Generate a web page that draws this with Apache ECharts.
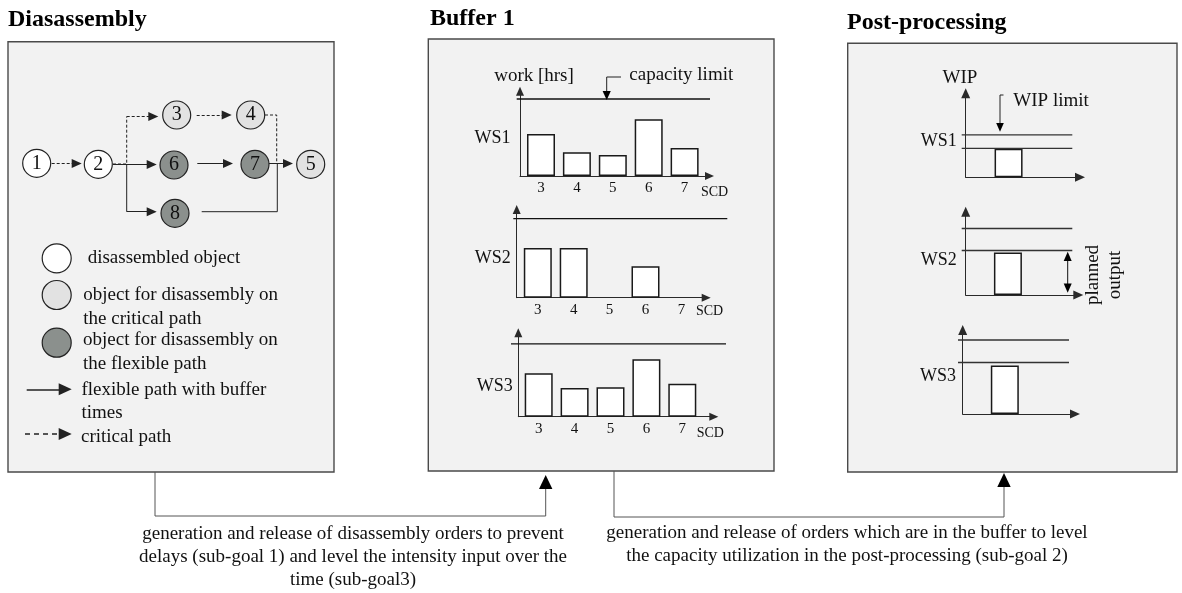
<!DOCTYPE html>
<html><head><meta charset="utf-8">
<script src="https://cdn.jsdelivr.net/npm/echarts@6/dist/echarts.min.js"></script>
<style>html,body{margin:0;padding:0;background:#fff}#c{width:1182px;height:593px}</style>
</head><body><div id="c"></div><script>
// ================= DATA =================
// Buffer 1: work [hrs] per scheduled completion day (SCD)
const scdDays = [3, 4, 5, 6, 7];
const scdTickLabels = ['3', '4', '5', '6', '7'];
const ws1Work = [6.0, 3.4, 3.0, 8.1, 4.0];
const ws2Work = [7.1, 7.1, null, 4.5, null];
const ws3Work = [6.2, 4.1, 4.2, 8.2, 4.7];
const capacityLimit = [11.0, 11.3, 10.4];
const workstations = ['WS1', 'WS2', 'WS3'];

// Post-processing: WIP per workstation
const postSlots = ['t1', 't2', 't3', 't4'];
const ws1Wip = [null, 5.7, null, null];
const ws2Wip = [null, 8.5, null, null];
const ws3Wip = [null, 9.7, null, null];
const wipLimit = [8.5, 13.3, 14.8];
const plannedOutput = [5.8, 8.9, 10.3];

// Disassembly network (diagram units inside the panel)
const nodeIds = ['1', '2', '3', '4', '5', '6', '7', '8'];
const nodeKinds = ['done', 'done', 'critical', 'critical', 'critical', 'flexible', 'flexible', 'flexible'];
const nodeX = [28.7, 90.3, 168.7, 242.7, 302.7, 166, 247, 167];
const nodeY = [121.3, 122.3, 73, 73, 122.3, 123, 122.3, 171.3];
const edgeKinds = ['critical', 'critical', 'flexible', 'flexible', 'critical', 'flexible', 'critical', 'flexible', 'flexible'];
const edgeArrow = [true, true, true, true, true, true, false, true, false];
const edgePaths = [
  [[43.7, 121.5], [73.7, 121.5]],
  [[105, 122], [118.7, 122], [118.7, 74.5], [150.3, 74.5]],
  [[105, 122.5], [148.7, 122.5]],
  [[118.7, 122.5], [118.7, 169.7], [148.7, 169.7]],
  [[188.7, 73], [223.7, 73]],
  [[189.3, 121.5], [225, 121.5]],
  [[257, 73], [268.7, 73], [268.7, 121.5]],
  [[261, 121.5], [285, 121.5]],
  [[193.7, 169.7], [269.3, 169.7], [269.3, 121.5]]
];
const legendKinds = ['done', 'critical', 'flexible'];
const legendNodeY = [216.3, 253, 300.7];
const legendArrowKinds = ['flexible', 'critical'];
const legendArrowPaths = [[[18.7, 347.3], [63.7, 347.3]], [[17, 392], [63.7, 392]]];

// ================= STYLE / LAYOUT =================
const FONT = "'Liberation Serif','Times New Roman',serif";
const kindColor = { done: '#ffffff', critical: '#e2e2e2', flexible: '#8b908d' };
const bufLayout = [
  { ax: 520, ay: 176, ytip: 86.7, xtip: 714, firstOff: 21, lineL: 516.7, lineR: 710 },
  { ax: 516.7, ay: 297.7, ytip: 205, xtip: 710.7, firstOff: 21.1, lineL: 513.3, lineR: 727.3 },
  { ax: 518.3, ay: 416.7, ytip: 328.3, xtip: 718.3, firstOff: 20.4, lineL: 511, lineR: 726 }
];
const postLayout = [
  { ax: 965.7, ay: 177.3, ytip: 88.3, xtip: 1085, lineL: 961.7, lineR: 1072.3 },
  { ax: 965.7, ay: 295, ytip: 206.7, xtip: 1083.3, lineL: 961.7, lineR: 1072.3 },
  { ax: 962.7, ay: 414, ytip: 325, xtip: 1080, lineL: 958, lineR: 1069 }
];
const BUF_PX_PER_DAY = 35.9, BUF_PX_PER_HR = 7, BUF_ARROW = 9;
const POST_PX_PER_WIP = 5, POST_ARROW = 10;

const grids = [], xAxes = [], yAxes = [], series = [];
function addGrid(g, x, y) {
  grids.push(Object.assign({ show: false, containLabel: false, outerBoundsMode: 'none' }, g));
  const i = grids.length - 1;
  xAxes.push(Object.assign({ gridIndex: i }, x));
  yAxes.push(Object.assign({ gridIndex: i }, y));
  return i;
}
function hidden(min, max, inverse) {
  return { type: 'value', show: false, min: min, max: max, inverse: !!inverse, splitLine: { show: false } };
}
function arrowLine(size) {
  return { show: true, onZero: false, symbol: ['none', 'triangle'], symbolSize: size, lineStyle: { color: '#2a2a2a', width: 1 } };
}
const barStyle = { color: '#ffffff', borderColor: '#1a1a1a', borderWidth: 1.5 };

// ---- Buffer 1 ----
const bufWork = [ws1Work, ws2Work, ws3Work];
bufLayout.forEach(function (L, i) {
  const top = L.ytip + BUF_ARROW / 2, left = L.ax;
  const width = L.xtip - BUF_ARROW / 2 - L.ax, height = L.ay - top;
  const xmin = scdDays[0] - L.firstOff / BUF_PX_PER_DAY;
  const ymax = height / BUF_PX_PER_HR;
  const gi = addGrid({ left: left, top: top, width: width, height: height },
    { type: 'value', min: xmin, max: xmin + width / BUF_PX_PER_DAY,
      axisLine: arrowLine([8, BUF_ARROW]), axisTick: { show: false }, splitLine: { show: false },
      axisLabel: { show: true, customValues: scdDays, margin: 5, fontSize: 15, fontFamily: FONT, color: '#111',
        formatter: function (v) { const k = scdDays.indexOf(v); return k >= 0 ? scdTickLabels[k] : ''; } } },
    { type: 'value', min: 0, max: ymax, axisLine: arrowLine([8, BUF_ARROW]), axisTick: { show: false },
      splitLine: { show: false }, axisLabel: { show: false } });
  series.push({ type: 'bar', xAxisIndex: gi, yAxisIndex: gi, barWidth: 28, silent: true, itemStyle: barStyle,
    data: scdDays.map(function (d, k) { return bufWork[i][k] == null ? null : [d, bufWork[i][k]]; }).filter(Boolean) });
  const li = addGrid({ left: L.lineL, top: top, width: L.lineR - L.lineL, height: height }, hidden(0, 1), hidden(0, ymax));
  series.push({ type: 'line', xAxisIndex: li, yAxisIndex: li, symbol: 'none', silent: true,
    lineStyle: { color: '#111', width: 1.3 }, data: [[0, capacityLimit[i]], [1, capacityLimit[i]]] });
});

// ---- Post-processing ----
const postWip = [ws1Wip, ws2Wip, ws3Wip];
postLayout.forEach(function (L, i) {
  const top = L.ytip + POST_ARROW / 2, left = L.ax;
  const width = L.xtip - POST_ARROW / 2 - L.ax, height = L.ay - top;
  const ymax = height / POST_PX_PER_WIP;
  const gi = addGrid({ left: left, top: top, width: width, height: height },
    { type: 'category', data: postSlots, boundaryGap: true, axisLine: arrowLine([9, POST_ARROW]),
      axisTick: { show: false }, axisLabel: { show: false }, splitLine: { show: false } },
    { type: 'value', min: 0, max: ymax, axisLine: arrowLine([9, POST_ARROW]), axisTick: { show: false },
      splitLine: { show: false }, axisLabel: { show: false } });
  series.push({ type: 'bar', xAxisIndex: gi, yAxisIndex: gi, barWidth: 28, silent: true, itemStyle: barStyle, data: postWip[i] });
  const li = addGrid({ left: L.lineL, top: top, width: L.lineR - L.lineL, height: height }, hidden(0, 1), hidden(0, ymax));
  series.push({ type: 'line', xAxisIndex: li, yAxisIndex: li, symbol: 'none', silent: true,
    lineStyle: { color: '#333', width: 1.3 }, data: [[0, wipLimit[i]], [1, wipLimit[i]]] });
  series.push({ type: 'line', xAxisIndex: li, yAxisIndex: li, symbol: 'none', silent: true,
    lineStyle: { color: '#333', width: 1.3 }, data: [[0, plannedOutput[i]], [1, plannedOutput[i]]] });
});

// ---- Disassembly network ----
const dg = addGrid({ left: 8, top: 42, width: 326, height: 430 }, hidden(0, 326), hidden(0, 430, true));
function edgeStyle(kind, wide) {
  return { color: '#222', width: wide ? 1.6 : 1, opacity: 1,
    type: kind === 'critical' ? (wide ? [5, 4] : [3, 2]) : 'solid' };
}
function shorten(p, q, d) {
  const dx = q[0] - p[0], dy = q[1] - p[1], len = Math.sqrt(dx * dx + dy * dy);
  return [q[0] - dx / len * d, q[1] - dy / len * d];
}
const polyData = [], arrowData = [];
edgePaths.forEach(function (path, k) {
  const st = edgeStyle(edgeKinds[k], false);
  if (edgeArrow[k]) {
    if (path.length > 2) polyData.push({ coords: path.slice(0, path.length - 1), lineStyle: st });
    const a = path[path.length - 2], b = path[path.length - 1];
    arrowData.push({ coords: [a, shorten(a, b, 5)], lineStyle: st });
  } else {
    polyData.push({ coords: path, lineStyle: st });
  }
});
series.push({ type: 'lines', coordinateSystem: 'cartesian2d', xAxisIndex: dg, yAxisIndex: dg, polyline: true,
  silent: true, z: 1, symbol: 'none', lineStyle: { opacity: 1, color: '#222' }, data: polyData });
series.push({ type: 'lines', coordinateSystem: 'cartesian2d', xAxisIndex: dg, yAxisIndex: dg, silent: true, z: 1,
  symbol: ['none', 'triangle'], symbolSize: [[9, 10], [9, 10]], lineStyle: { opacity: 1, color: '#111' }, data: arrowData });
// legend arrows
series.push({ type: 'lines', coordinateSystem: 'cartesian2d', xAxisIndex: dg, yAxisIndex: dg, silent: true, z: 1,
  symbol: ['none', 'triangle'], symbolSize: [[12, 13], [12, 13]], lineStyle: { opacity: 1, color: '#111' },
  data: legendArrowPaths.map(function (p, k) {
    return { coords: [p[0], shorten(p[0], p[1], 6.5)], lineStyle: edgeStyle(legendArrowKinds[k], true) };
  }) });
series.push({ type: 'scatter', xAxisIndex: dg, yAxisIndex: dg, symbolSize: 28, silent: true, z: 3,
  itemStyle: { borderColor: '#222', borderWidth: 1.2, opacity: 1 },
  label: { show: true, position: 'inside', formatter: '{b}', fontSize: 20, fontFamily: FONT, color: '#111' },
  data: nodeIds.map(function (id, k) {
    return { name: id, value: [nodeX[k], nodeY[k]], itemStyle: { color: kindColor[nodeKinds[k]] } };
  }) });
series.push({ type: 'scatter', xAxisIndex: dg, yAxisIndex: dg, symbolSize: 29, silent: true, z: 3,
  itemStyle: { borderColor: '#222', borderWidth: 1.2, opacity: 1 },
  data: legendKinds.map(function (kd, k) { return { value: [48.7, legendNodeY[k]], itemStyle: { color: kindColor[kd] } }; }) });

// ================= GRAPHIC (frames, labels, annotations) =================
function txt(t, x, y, o) {
  return { type: 'text', z: 50, silent: true, style: Object.assign({ text: t, x: x, y: y, fontSize: 19, fontFamily: FONT,
    fill: '#111', align: 'left', verticalAlign: 'middle' }, o || {}) };
}
function rect(x, y, w, h) {
  return { type: 'rect', z: 0, silent: true, shape: { x: x, y: y, width: w, height: h },
    style: { fill: '#f2f2f2', stroke: '#4a4a4a', lineWidth: 1.4 } };
}
function pline(pts, o) {
  return { type: 'polyline', z: 50, silent: true, shape: { points: pts },
    style: Object.assign({ stroke: '#555', lineWidth: 1, fill: null }, o || {}) };
}
function tri(pts, c) {
  return { type: 'polygon', z: 51, silent: true, shape: { points: pts }, style: { fill: c || '#000' } };
}
const g = [
  rect(8, 41.7, 326, 430.3), rect(428.3, 39, 345.7, 432), rect(847.7, 43.3, 329.3, 428.7),
  txt('Diasassembly', 8, 20, { fontSize: 24, fontWeight: 'bold', fill: '#000' }),
  txt('Buffer 1', 430, 19, { fontSize: 24, fontWeight: 'bold', fill: '#000' }),
  txt('Post-processing', 847, 23, { fontSize: 24, fontWeight: 'bold', fill: '#000' }),
  // legend texts
  txt('disassembled object', 87.7, 258),
  txt('object for disassembly on\nthe critical path', 83.3, 307, { lineHeight: 24 }),
  txt('object for disassembly on\nthe flexible path', 83, 352.5, { lineHeight: 24 }),
  txt('flexible path with buffer\ntimes', 81.5, 401.3, { lineHeight: 23 }),
  txt('critical path', 81, 436.7),
  // buffer annotations
  txt('work [hrs]', 534, 76, { align: 'center' }),
  txt('capacity limit', 629.3, 75),
  pline([[621, 77], [606.7, 77], [606.7, 92]], { stroke: '#222' }),
  tri([[606.7, 100], [602.6, 91], [610.8, 91]]),
  txt('SCD', 701, 192.7, { fontSize: 14 }),
  txt('SCD', 696, 311.7, { fontSize: 14 }),
  txt('SCD', 696.7, 433.3, { fontSize: 14 }),
  txt(workstations[0], 510.5, 138.3, { align: 'right', fontSize: 18 }),
  txt(workstations[1], 510.7, 258.3, { align: 'right', fontSize: 18 }),
  txt(workstations[2], 512.7, 386.7, { align: 'right', fontSize: 18 }),
  // post-processing annotations
  txt('WIP', 960, 77.7, { align: 'center' }),
  txt('WIP limit', 1013.3, 100.7),
  pline([[1003.5, 95], [1000, 95], [1000, 124]], { stroke: '#222' }),
  tri([[1000, 131.7], [996.2, 123], [1003.8, 123]]),
  txt(workstations[0], 956.7, 141.7, { align: 'right', fontSize: 18 }),
  txt(workstations[1], 956.7, 260, { align: 'right', fontSize: 18 }),
  txt(workstations[2], 956, 376.7, { align: 'right', fontSize: 18 }),
  pline([[1067.7, 259], [1067.7, 286]], { stroke: '#111' }),
  tri([[1067.7, 251.7], [1063.7, 261], [1071.7, 261]]),
  tri([[1067.7, 292.7], [1063.7, 283.5], [1071.7, 283.5]]),
  { type: 'text', z: 50, silent: true, x: 1104, y: 275, rotation: Math.PI / 2,
    style: { text: 'planned\noutput', x: 0, y: 0, fontSize: 19, fontFamily: FONT, fill: '#111',
      align: 'center', verticalAlign: 'middle', lineHeight: 22 } },
  // connectors between panels
  pline([[155, 472], [155, 516], [545.7, 516], [545.7, 488]]),
  tri([[545.7, 475], [539, 489], [552.4, 489]]),
  pline([[614, 471], [614, 517], [1004, 517], [1004, 486]]),
  tri([[1004, 473], [997.3, 487], [1010.7, 487]]),
  txt('generation and release of disassembly orders to prevent\ndelays (sub-goal 1) and level the intensity input over the\ntime (sub-goal3)',
    353, 557, { align: 'center', lineHeight: 23 }),
  txt('generation and release of orders which are in the buffer to level\nthe capacity utilization in the post-processing (sub-goal 2)',
    847, 545, { align: 'center', lineHeight: 23 })
];

const chart = echarts.init(document.getElementById('c'), null, { renderer: 'canvas' });
chart.setOption({
  animation: false,
  backgroundColor: '#ffffff',
  grid: grids, xAxis: xAxes, yAxis: yAxes, series: series,
  graphic: { elements: g }
});
</script></body></html>
